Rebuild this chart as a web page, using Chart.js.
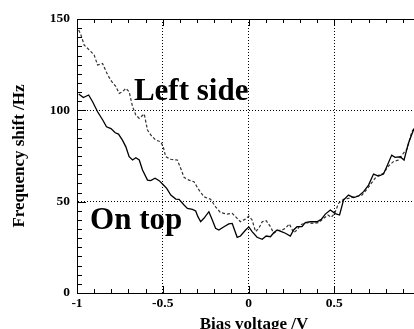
<!DOCTYPE html>
<html>
<head>
<meta charset="utf-8">
<script src="https://cdn.jsdelivr.net/npm/chart.js@4/dist/chart.umd.min.js"></script>
<style>
  html, body { margin: 0; padding: 0; background: #fff; }
  #wrap { width: 414px; height: 329px; }
</style>
</head>
<body>
<div id="wrap"><canvas id="chart"></canvas></div>
<script>
// Frequency shift vs bias voltage, two tip positions

// "On top" curve (solid)
const onTopX = [-0.99, -0.963, -0.932, -0.909, -0.88, -0.85, -0.828, -0.802, -0.777, -0.758, -0.735, -0.715, -0.696, -0.676, -0.657, -0.637, -0.618, -0.589, -0.57, -0.545, -0.521, -0.5, -0.477, -0.453, -0.424, -0.405, -0.376, -0.356, -0.327, -0.308, -0.295, -0.279, -0.26, -0.231, -0.211, -0.192, -0.173, -0.143, -0.115, -0.095, -0.085, -0.066, -0.047, -0.017, 0.002, 0.021, 0.05, 0.08, 0.103, 0.128, 0.147, 0.167, 0.192, 0.215, 0.244, 0.263, 0.283, 0.312, 0.331, 0.36, 0.399, 0.424, 0.448, 0.477, 0.506, 0.531, 0.554, 0.583, 0.613, 0.642, 0.671, 0.7, 0.729, 0.758, 0.787, 0.806, 0.835, 0.855, 0.884, 0.907, 0.932, 0.965];
const onTopY = [109, 107, 108.4, 104.7, 99.2, 94.7, 91, 90, 87.7, 87, 83.7, 80, 74.6, 72.8, 74, 72.8, 67.3, 61.8, 61.5, 62.8, 61.5, 59.5, 57.3, 53.6, 51.4, 51.3, 48.2, 46.3, 45.8, 44.9, 41.8, 39, 40.9, 44.5, 40, 35.4, 34.5, 36.3, 37.8, 38.1, 35.4, 30.5, 31.2, 34.5, 36.2, 33.6, 30.5, 29.4, 31.2, 30.8, 33, 34.5, 33.6, 32.7, 31.2, 34.5, 36.3, 36.3, 38.5, 39, 39, 40.3, 43.2, 45.4, 43.5, 42.7, 50.9, 53.6, 52.2, 53.1, 55.5, 59.1, 65.1, 64, 65.1, 69.1, 75.5, 74.3, 74.6, 72.8, 81.9, 90];

// "Left side" curve (dashed)
const leftSideX = [-0.99, -0.977, -0.958, -0.928, -0.9, -0.88, -0.851, -0.821, -0.797, -0.773, -0.754, -0.735, -0.715, -0.696, -0.676, -0.657, -0.637, -0.608, -0.589, -0.57, -0.541, -0.512, -0.497, -0.483, -0.453, -0.415, -0.395, -0.376, -0.347, -0.318, -0.289, -0.26, -0.221, -0.192, -0.163, -0.124, -0.095, -0.076, -0.047, -0.017, 0.002, 0.021, 0.041, 0.06, 0.08, 0.103, 0.128, 0.147, 0.167, 0.196, 0.215, 0.238, 0.263, 0.283, 0.302, 0.331, 0.37, 0.409, 0.438, 0.463, 0.483, 0.502, 0.525, 0.554, 0.583, 0.622, 0.661, 0.69, 0.719, 0.748, 0.787, 0.816, 0.845, 0.874, 0.903, 0.926, 0.952, 0.965];
const leftSideY = [144, 141.2, 135.7, 133, 130.3, 124.8, 125.7, 119.3, 115.7, 113, 109.3, 110.2, 112, 110.2, 102, 97.4, 95.6, 98, 89.2, 86.5, 83.7, 82.8, 80, 74.6, 73.2, 72.8, 68.2, 63.3, 61.8, 60.9, 56.4, 52.7, 51.3, 47.2, 44, 43.2, 43.6, 41.8, 39, 40.5, 42.1, 40, 33.6, 35.4, 39, 39.6, 36.3, 32.7, 34.1, 34.5, 35.4, 37.8, 33, 34.5, 37.2, 38.5, 38.1, 38.5, 40.9, 42.7, 41.4, 43.5, 49.1, 51.3, 51.8, 52.7, 53.6, 56.7, 60.4, 64, 65.5, 69.5, 71.9, 72.8, 76.5, 79.1, 88.3, 90];

// axes
const xMin = -1, xMax = 0.965;
const yMin = 0, yMax = 150;
const xTickValues = [-1, -0.5, 0, 0.5];
const xTickLabels = ['-1', '-0.5', '0', '0.5'];
const yTickValues = [0, 50, 100, 150];
const yTickLabels = ['0', '50', '100', '150'];
const xMinorStep = 0.1;
const yMinorStep = 5;

// curve labels, placed in data coordinates
const curveLabels = [
  { text: 'Left side', x: -0.668, y: 105.7 },
  { text: 'On top', x: -0.924, y: 35.0 },
];
const xTitle = 'Bias voltage /V';
const yTitle = 'Frequency shift /Hz';

const serif = '"Liberation Serif", "DejaVu Serif", serif';

const toPoints = (xs, ys) => xs.map((x, i) => ({ x, y: ys[i] }));

// inside tick marks, top frame line, curve labels and x title
const framePlugin = {
  id: 'frame',
  afterDraw(chart) {
    const { ctx, chartArea: a, scales: { x, y } } = chart;
    ctx.save();
    ctx.strokeStyle = '#000';
    ctx.lineWidth = 1;

    // top frame
    ctx.beginPath();
    ctx.moveTo(a.left, a.top + 0.5);
    ctx.lineTo(a.right, a.top + 0.5);
    ctx.stroke();

    ctx.beginPath();
    for (let i = 0; xMin + i * xMinorStep <= xMax + 1e-9; i++) {
      const v = xMin + i * xMinorStep;
      const major = Math.abs(v * 2 - Math.round(v * 2)) < 1e-6;
      const len = major ? 7 : 4;
      const px = Math.round(x.getPixelForValue(v)) + 0.5;
      ctx.moveTo(px, a.bottom);
      ctx.lineTo(px, a.bottom - len);
      ctx.moveTo(px, a.top);
      ctx.lineTo(px, a.top + len);
    }
    for (let v = yMin; v <= yMax; v += yMinorStep) {
      const len = v % 50 === 0 ? 9 : 5;
      const py = Math.round(y.getPixelForValue(v)) + 0.5;
      ctx.moveTo(a.left, py);
      ctx.lineTo(a.left + len, py);
    }
    ctx.stroke();

    ctx.fillStyle = '#000';
    ctx.textBaseline = 'alphabetic';
    ctx.textAlign = 'left';
    ctx.font = 'bold 31px ' + serif;
    curveLabels.forEach(l => {
      ctx.fillText(l.text, x.getPixelForValue(l.x), y.getPixelForValue(l.y));
    });

    ctx.font = 'bold 17px ' + serif;
    ctx.textAlign = 'center';
    ctx.fillText(xTitle, x.getPixelForValue(0.032), chart.height);
    ctx.restore();
  }
};

new Chart(document.getElementById('chart'), {
  type: 'line',
  data: {
    datasets: [
      {
        label: 'On top',
        data: toPoints(onTopX, onTopY),
        borderColor: '#000',
        borderWidth: 1.3,
        pointRadius: 0,
        tension: 0,
        fill: false,
      },
      {
        label: 'Left side',
        data: toPoints(leftSideX, leftSideY),
        borderColor: '#333',
        borderWidth: 1.2,
        borderDash: [3, 2],
        pointRadius: 0,
        tension: 0,
        fill: false,
      },
    ],
  },
  options: {
    responsive: true,
    maintainAspectRatio: false,
    animation: false,
    layout: { padding: { top: 19, left: 0, right: 0, bottom: 0 } },
    plugins: {
      legend: { display: false },
      tooltip: { enabled: false },
      title: { display: false },
    },
    scales: {
      x: {
        type: 'linear',
        min: xMin,
        max: xMax,
        afterBuildTicks: s => { s.ticks = xTickValues.map(v => ({ value: v })); },
        afterFit: s => { s.height = 36; },
        ticks: {
          padding: 2,
          color: '#000',
          font: { family: serif, size: 13.5, weight: 'bold' },
          callback: v => xTickLabels[xTickValues.indexOf(v)],
          maxRotation: 0,
        },
        grid: {
          drawTicks: false,
          color: c => (c.tick && c.tick.value === xMin ? 'rgba(0,0,0,0)' : '#000'),
          lineWidth: 1,
        },
        border: { display: true, color: '#000', width: 1, dash: [1, 2] },
      },
      y: {
        min: yMin,
        max: yMax,
        afterBuildTicks: s => { s.ticks = yTickValues.map(v => ({ value: v })); },
        afterFit: s => { s.width = 77; },
        ticks: {
          padding: 7,
          color: '#000',
          font: { family: serif, size: 13.5, weight: 'bold' },
          callback: v => yTickLabels[yTickValues.indexOf(v)],
        },
        grid: {
          drawTicks: false,
          color: c => (c.tick && (c.tick.value === yMin || c.tick.value === yMax) ? 'rgba(0,0,0,0)' : '#000'),
          lineWidth: 1,
        },
        border: { display: true, color: '#000', width: 1, dash: [1, 2] },
        title: {
          display: true,
          text: yTitle,
          color: '#000',
          font: { family: serif, size: 17, weight: 'bold' },
          padding: { top: 9, bottom: 0 },
        },
      },
    },
  },
  plugins: [framePlugin],
});
</script>
</body>
</html>
